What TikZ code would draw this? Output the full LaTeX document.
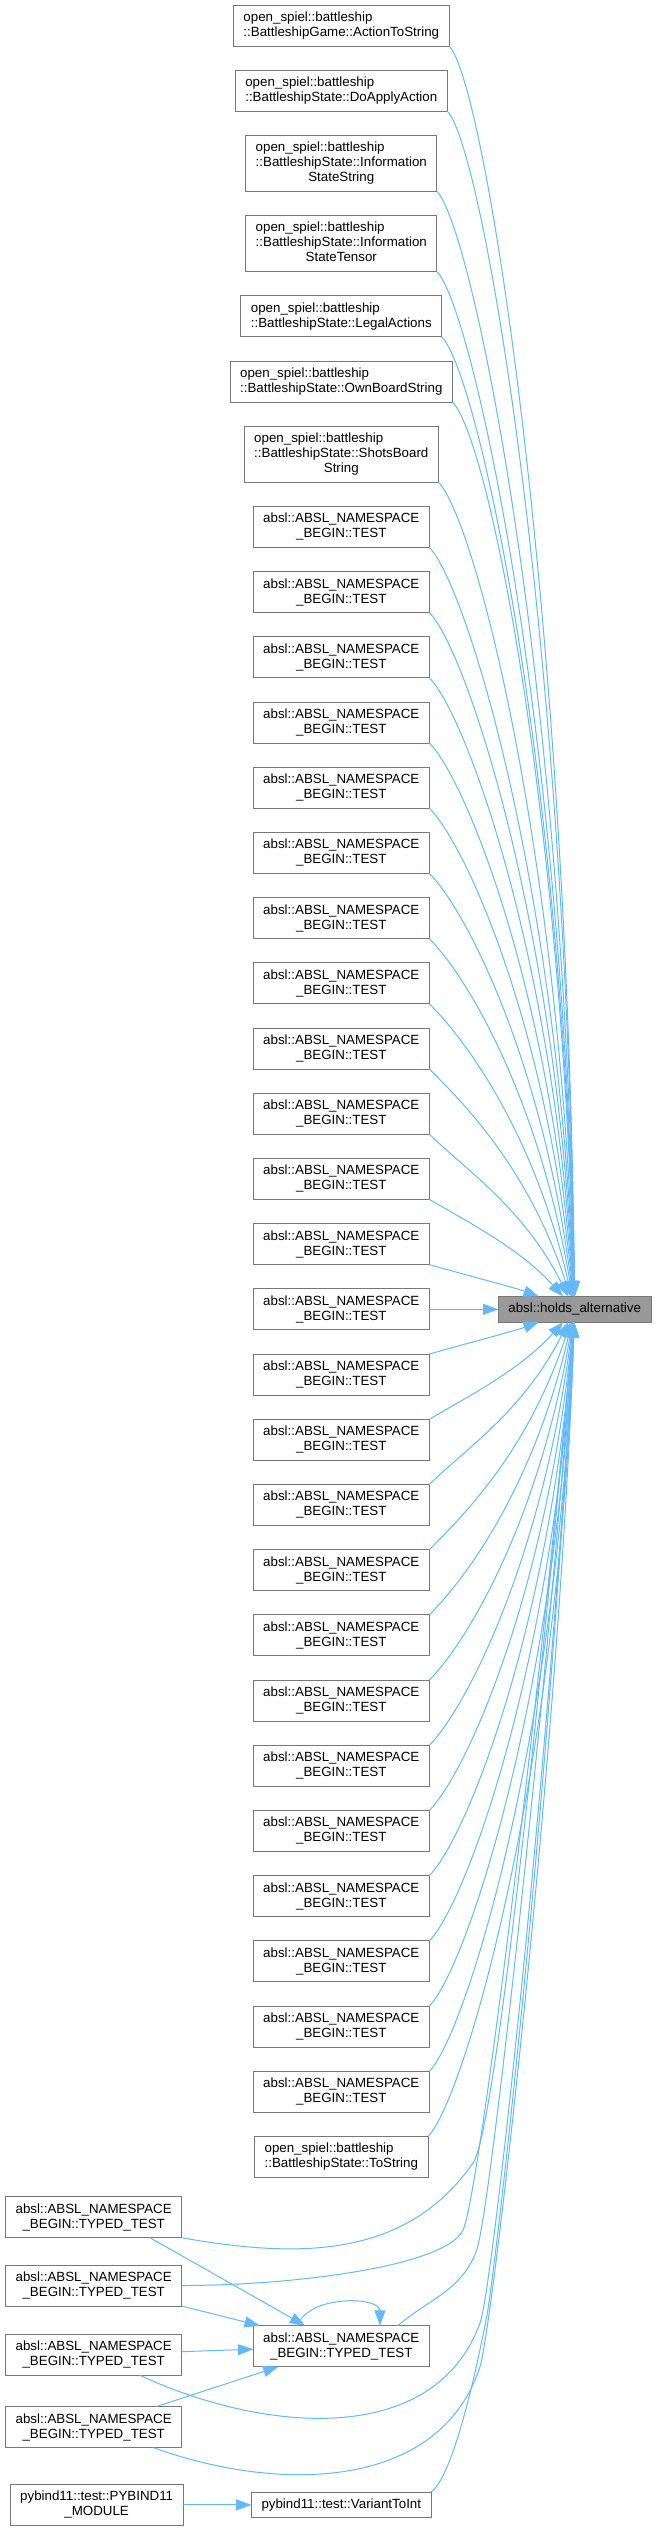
\documentclass[tikz,border=0pt]{standalone}
\usepackage{fontspec}
\setmainfont{Liberation Sans}
\usetikzlibrary{arrows.meta, positioning}
\definecolor{edgeblue}{HTML}{63B8FF}
\definecolor{boxline}{HTML}{777777}
\definecolor{hlfill}{HTML}{999999}
\tikzset{
    fnbox/.style = {rectangle, draw=boxline, fill=white, line width=0.75pt, outer sep=0pt, align=center, font=\fontsize{10pt}{11.25pt}\selectfont, inner xsep=7.5pt, inner ysep=1pt, minimum height=30.75pt},
    fnboxiii/.style = {fnbox, minimum height=42pt},
    fnboxi/.style = {fnbox, minimum height=19.3pt},
    hlbox/.style = {fnboxi, fill=hlfill},
    arrow/.style = {draw=edgeblue, line width=0.75pt, -{Triangle[length=11.5pt, width=8.25pt]}}
}
\newcommand{\threelines}[3]{\begin{tabular}{@{}l@{}}#1\\#2\\\multicolumn{1}{@{}c@{}}{#3}\end{tabular}}

\begin{document}
\begin{tikzpicture}[x=0.75pt, y=-0.75pt, node distance=18.15pt]
\useasboundingbox (0,0) rectangle (657,2531);

\node (as) [fnbox, align=left] at (341.3,25.5) {open\_spiel::battleship\\::BattleshipGame::ActionToString};
\node (da) [fnbox, align=left, below=of as] {open\_spiel::battleship\\::BattleshipState::DoApplyAction};
\node (iss) [fnboxiii, below=of da] {\threelines{open\_spiel::battleship}{::BattleshipState::Information}{StateString}};
\node (ist) [fnboxiii, below=of iss] {\threelines{open\_spiel::battleship}{::BattleshipState::Information}{StateTensor}};
\node (la) [fnbox, align=left, below=of ist] {open\_spiel::battleship\\::BattleshipState::LegalActions};
\node (obs) [fnbox, align=left, below=of la] {open\_spiel::battleship\\::BattleshipState::OwnBoardString};
\node (sbs) [fnboxiii, below=of obs] {\threelines{open\_spiel::battleship}{::BattleshipState::ShotsBoard}{String}};
\node (test0) [fnbox, below=of sbs] {absl::ABSL\_NAMESPACE\\\_BEGIN::TEST};
\foreach \i [remember=\i as \j (initially 0)] in {1,...,24}
    \node (test\i) [fnbox, below=of test\j] {absl::ABSL\_NAMESPACE\\\_BEGIN::TEST};
\node (ts) [fnbox, align=left, below=of test24] {open\_spiel::battleship\\::BattleshipState::ToString};

\node (holds) [hlbox, right=51.75pt of test12] {absl::holds\_alternative};

\node (typedc) [fnbox, below=111.2pt of ts] {absl::ABSL\_NAMESPACE\\\_BEGIN::TYPED\_TEST};
\node (toint) [fnboxi, below=94pt of typedc] {pybind11::test::VariantToInt};
\node (pymod) [fnbox, left=51.3pt of toint] {pybind11::test::PYBIND11\\\_MODULE};
\node (typed1) [fnbox] at (93.7,2217.2) {absl::ABSL\_NAMESPACE\\\_BEGIN::TYPED\_TEST};
\node (typed2) [fnbox] at (93.7,2285.5) {absl::ABSL\_NAMESPACE\\\_BEGIN::TYPED\_TEST};
\node (typed3) [fnbox] at (93.7,2354.7) {absl::ABSL\_NAMESPACE\\\_BEGIN::TYPED\_TEST};
\node (typed4) [fnbox] at (93.7,2427) {absl::ABSL\_NAMESPACE\\\_BEGIN::TYPED\_TEST};

% callers above and below the highlighted node
\foreach \src/\dd in {as/1250.5, da/1185.3, iss/1105.1, ist/1024.9, la/959.7, obs/894.5, sbs/814.3,
    test0/749.05, test1/683.85, test2/618.65, test3/553.45, test4/488.25, test5/423.05,
    test6/357.85, test7/292.65, test8/227.45, test9/162.25, test10/97.05, test11/31.85} {
  \pgfmathsetmacro\outa{min(45,16+0.22*(\dd-32.7))}
  \pgfmathsetmacro\ina{90+atan(114/\dd)*exp(-\dd/600)}
  \pgfmathsetmacro\outd{0.75*min(50,0.35*(\dd+100))}
  \pgfmathsetmacro\ind{0.75*(0.55*\dd+10)}
  \draw [arrow] (\src.south east) to[out=-\outa, in=\ina, out distance=\outd pt, in distance=\ind pt] (holds);
}
\draw [arrow] (test12) -- (holds);
\foreach \src/\dd in {test13/31.85, test14/97.05, test15/162.25, test16/227.45, test17/292.65,
    test18/357.85, test19/423.05, test20/488.25, test21/553.45, test22/618.65, test23/683.85,
    test24/749.05, ts/814.3} {
  \pgfmathsetmacro\outa{min(45,16+0.22*(\dd-32.7))}
  \pgfmathsetmacro\ina{90+atan(114/\dd)*exp(-\dd/600)}
  \pgfmathsetmacro\outd{0.75*min(50,0.35*(\dd+100))}
  \pgfmathsetmacro\ind{0.75*(0.55*\dd+10)}
  \draw [arrow] (\src.north east) to[out=\outa, in=-\ina, out distance=\outd pt, in distance=\ind pt] (holds);
}

\draw [arrow] (typed1.south east) to[out=-10, in=-125] (473,2163) to[out=55, in=-95, out distance=30pt, in distance=262pt] (holds);
\draw [arrow] (typed2.east) to[out=0, in=-115, in distance=30pt] (463,2230) to[out=65, in=-95, out distance=30pt, in distance=262pt] (holds);
\draw [arrow] (typedc.20) to[out=40, in=-110] (476.7,2250) to[out=70, in=-94, out distance=30pt, in distance=262pt] (holds);
\draw [arrow] (typed3.-24) to[out=-25, in=-110] (480,2323) to[out=70, in=-93, out distance=30pt, in distance=300pt] (holds);
\draw [arrow] (typed4.-19) to[out=-20, in=-108] (480,2366.7) to[out=72, in=-92, out distance=30pt, in distance=315pt] (holds);
\draw [arrow] (toint.north east) to[out=35, in=-101, out distance=15pt, in distance=75pt] (486.7,2316.7) to[out=79, in=-93, out distance=30pt, in distance=375pt] (holds);

\draw [arrow] (typed1.-20) -- (typedc);
\draw [arrow] (typed2.south east) -- (typedc);
\draw [arrow] (typed3) -- (typedc);
\draw [arrow] (typed4) -- (typedc);
\draw [arrow] ([xshift=-33pt]typedc.north) to[out=70, in=90, out distance=25pt, in distance=22pt] ([xshift=29pt]typedc.north);
\draw [arrow] (pymod) -- (toint);
\end{tikzpicture}
\end{document}
